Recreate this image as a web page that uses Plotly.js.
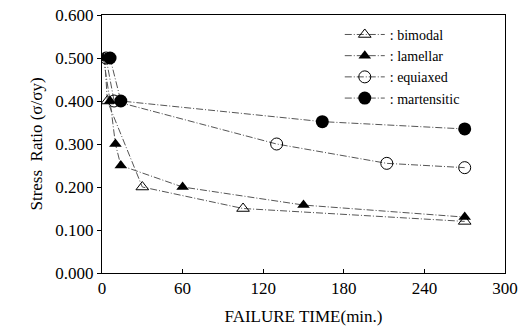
<!DOCTYPE html>
<html>
<head>
<meta charset="utf-8">
<script src="https://cdn.plot.ly/plotly-3.0.1.min.js"></script>
<style>html,body{margin:0;padding:0;background:#fff;}#chart{width:528px;height:331px;}</style>
</head>
<body>
<div id="chart"></div>
<script>
// Data
const bimodalX = [2, 4, 30, 105, 270];
const bimodalY = [0.500, 0.400, 0.200, 0.150, 0.120];
const lamellarX = [1, 6, 10, 14, 60, 150, 270];
const lamellarY = [0.500, 0.400, 0.300, 0.250, 0.200, 0.158, 0.130];
const equiaxedX = [3, 9, 130, 212, 270];
const equiaxedY = [0.500, 0.400, 0.300, 0.255, 0.245];
const martensiticX = [6, 14, 164, 270];
const martensiticY = [0.500, 0.400, 0.352, 0.335];
const seriesNames = [": bimodal", ": lamellar", ": equiaxed", ": martensitic"];
const xTicks = [0, 60, 120, 180, 240, 300];
const yTicks = [0, 0.1, 0.2, 0.3, 0.4, 0.5, 0.6];
const yTickText = ["0.000", "0.100", "0.200", "0.300", "0.400", "0.500", "0.600"];

const lineStyle = {color: '#555', width: 1, dash: '7px,2px,1px,2px'};
const serif = '"Liberation Serif", "DejaVu Serif", serif';

const traces = [
  {x: bimodalX, y: bimodalY, name: seriesNames[0], mode: 'lines+markers', line: lineStyle,
   marker: {symbol: 'triangle-up-open', size: 11, color: '#000', line: {width: 1, color: '#000'}}},
  {x: lamellarX, y: lamellarY, name: seriesNames[1], mode: 'lines+markers', line: lineStyle,
   marker: {symbol: 'triangle-up', size: 11, color: '#000'}},
  {x: equiaxedX, y: equiaxedY, name: seriesNames[2], mode: 'lines+markers', line: lineStyle,
   marker: {symbol: 'circle-open', size: 12, color: '#000', line: {width: 1, color: '#000'}}},
  {x: martensiticX, y: martensiticY, name: seriesNames[3], mode: 'lines+markers', line: lineStyle,
   marker: {symbol: 'circle', size: 13, color: '#000'}}
];

const layout = {
  width: 528, height: 331,
  margin: {l: 102, r: 23, t: 15, b: 58},
  paper_bgcolor: '#fff', plot_bgcolor: '#fff',
  font: {family: serif, size: 16, color: '#000'},
  showlegend: true,
  legend: {x: 0.59, y: 0.985, xanchor: 'left', yanchor: 'top', bgcolor: 'rgba(255,255,255,0)',
           font: {family: serif, size: 14, color: '#000'}, tracegroupgap: 0, itemwidth: 40},
  xaxis: {range: [0, 300], tickvals: xTicks, ticks: 'inside', ticklen: 4, tickcolor: '#000',
          showline: true, linecolor: '#000', linewidth: 1, mirror: true, showgrid: false, zeroline: false,
          tickfont: {family: serif, size: 17},
          title: {text: 'FAILURE TIME(min.)', font: {family: serif, size: 17}, standoff: 12}},
  yaxis: {range: [0, 0.6], tickvals: yTicks, ticktext: yTickText, ticks: 'outside', ticklen: 4, tickcolor: '#000',
          showline: true, linecolor: '#000', linewidth: 1, mirror: true, showgrid: false, zeroline: false,
          tickfont: {family: serif, size: 17},
          title: {text: 'Stress  Ratio (σ/σy)', font: {family: serif, size: 17}, standoff: 8}}
};

Plotly.newPlot('chart', traces, layout, {displayModeBar: false, staticPlot: true});
</script>
</body>
</html>
